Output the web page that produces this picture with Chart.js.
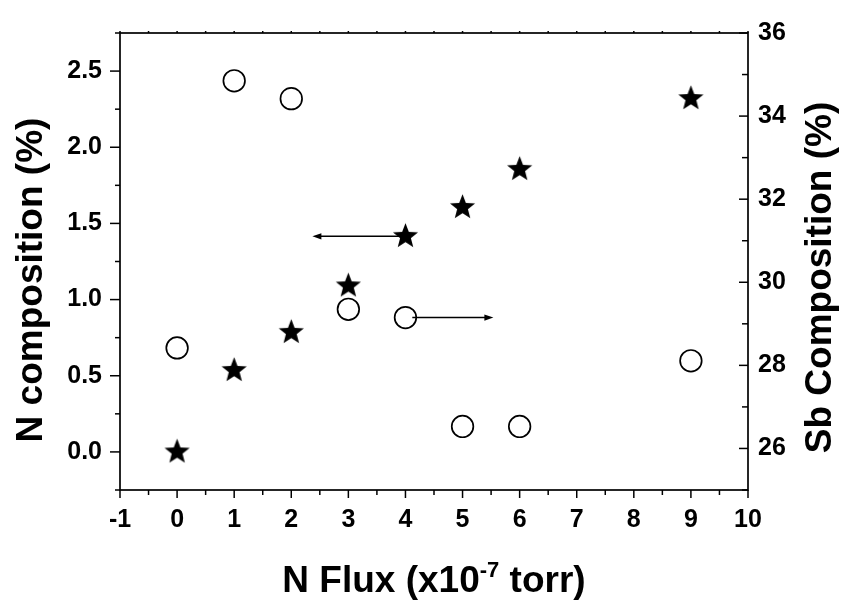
<!DOCTYPE html>
<html>
<head>
<meta charset="utf-8">
<title>N and Sb composition vs N flux</title>
<script src="https://cdn.jsdelivr.net/npm/chart.js@4.4.1/dist/chart.umd.min.js"></script>
<style>
  html, body { margin: 0; padding: 0; background: #fff; }
  #wrap { width: 843px; height: 603px; }
</style>
</head>
<body>
<div id="wrap"><canvas id="c" width="843" height="603"></canvas></div>
<script>
// N flux (x10^-7 torr) for each sample
const FLUX = [0, 1, 2, 3, 4, 5, 6, 9];
// N composition (%), left axis
const N_COMP = [0.00, 0.535, 0.785, 1.09, 1.415, 1.605, 1.855, 2.32];
// Sb composition (%), right axis
const SB_COMP = [28.42, 34.85, 34.42, 29.35, 29.15, 26.53, 26.53, 28.11];

// tick labels
const X_TICKS = [-1, 0, 1, 2, 3, 4, 5, 6, 7, 8, 9, 10];
const N_TICKS = [0, 0.5, 1.0, 1.5, 2.0, 2.5];
const SB_TICKS = [26, 28, 30, 32, 34, 36];

// arrows tying each series to its axis (data coordinates)
const N_ARROW = { from: 4, to: 2.37, at: 1.415 };
const SB_ARROW = { from: 4.12, to: 5.54, at: 29.15 };

const FONT = "'Liberation Sans', Arial, Helvetica, sans-serif";
const TICK_FONT = "'Liberation Sans Narrow', 'Arial Narrow', 'Liberation Sans', Arial, sans-serif";

// filled five-pointed star used as the point symbol
function makeStar(R, ratio) {
  const size = Math.ceil(R * 2 + 4);
  const c = document.createElement('canvas');
  c.width = size; c.height = size;
  const g = c.getContext('2d');
  const cx = size / 2, cy = size / 2;
  g.beginPath();
  for (let i = 0; i < 10; i++) {
    const r = (i % 2) ? R * ratio : R;
    const a = -Math.PI / 2 + i * Math.PI / 5;
    g.lineTo(cx + r * Math.cos(a), cy + r * Math.sin(a));
  }
  g.closePath();
  g.fillStyle = '#000';
  g.fill();
  return c;
}
const STAR = makeStar(13.2, 0.43);

function line(ctx, x0, y0, x1, y1) {
  ctx.beginPath(); ctx.moveTo(x0, y0); ctx.lineTo(x1, y1); ctx.stroke();
}

function arrow(ctx, x0, x1, y) {
  const dir = Math.sign(x1 - x0);
  ctx.lineWidth = 1.5;
  line(ctx, x0, y, x1 - dir * 6, y);
  ctx.beginPath();
  ctx.moveTo(x1, y);
  ctx.lineTo(x1 - dir * 9, y - 3.2);
  ctx.lineTo(x1 - dir * 9, y + 3.2);
  ctx.closePath();
  ctx.fill();
}

const framePlugin = {
  id: 'frame',
  beforeDatasetsDraw(chart) {
    const ctx = chart.ctx;
    const xs = chart.scales.x, yl = chart.scales.y, yr = chart.scales.y2;
    ctx.save();
    ctx.strokeStyle = '#000';
    ctx.fillStyle = '#000';
    arrow(ctx, xs.getPixelForValue(N_ARROW.from), xs.getPixelForValue(N_ARROW.to), yl.getPixelForValue(N_ARROW.at));
    arrow(ctx, xs.getPixelForValue(SB_ARROW.from), xs.getPixelForValue(SB_ARROW.to), yr.getPixelForValue(SB_ARROW.at));
    ctx.restore();
  },
  afterDraw(chart) {
    const ctx = chart.ctx;
    const a = chart.chartArea;
    const xs = chart.scales.x, yl = chart.scales.y, yr = chart.scales.y2;
    ctx.save();
    ctx.strokeStyle = '#000';
    ctx.fillStyle = '#000';
    ctx.lineWidth = 1.7;
    ctx.strokeRect(a.left, a.top, a.right - a.left, a.bottom - a.top);

    ctx.lineWidth = 1.5;
    // bottom and top ticks
    for (let v = xs.min; v <= xs.max + 1e-9; v += 0.5) {
      const px = xs.getPixelForValue(v);
      const major = Math.abs(v - Math.round(v)) < 1e-9;
      line(ctx, px, a.bottom, px, a.bottom + (major ? 8 : 5));
      line(ctx, px, a.top, px, a.top - 2);
    }
    // left ticks (outward)
    for (let v = yl.min; v <= yl.max + 1e-9; v += 0.25) {
      const py = yl.getPixelForValue(v);
      const major = Math.abs(v / 0.5 - Math.round(v / 0.5)) < 1e-9;
      line(ctx, a.left, py, a.left - (major ? 10 : 5), py);
    }
    // right ticks (inward)
    for (let v = yr.min; v <= yr.max + 1e-9; v += 1) {
      const py = yr.getPixelForValue(v);
      const major = Math.round(v) % 2 === 0;
      line(ctx, a.right, py, a.right - (major ? 9 : 6), py);
    }

    // axis titles
    const cx = (a.left + a.right) / 2;
    ctx.font = 'bold 37px ' + FONT;
    ctx.textBaseline = 'alphabetic';

    ctx.save();
    ctx.translate(42, 280);
    ctx.rotate(-Math.PI / 2);
    ctx.textAlign = 'center';
    ctx.fillText('N composition (%)', 0, 0);
    ctx.restore();

    ctx.save();
    ctx.translate(831, 277.5);
    ctx.rotate(-Math.PI / 2);
    ctx.textAlign = 'center';
    ctx.fillText('Sb Composition (%)', 0, 0);
    ctx.restore();

    const p1 = 'N Flux (x10', sup = '-7', p2 = ' torr)';
    ctx.textAlign = 'left';
    ctx.font = 'bold 37px ' + FONT;
    const w1 = ctx.measureText(p1).width, w3 = ctx.measureText(p2).width;
    ctx.font = 'bold 22px ' + FONT;
    const w2 = ctx.measureText(sup).width;
    let x = cx - (w1 + w2 + w3) / 2;
    const base = 592;
    ctx.font = 'bold 37px ' + FONT;
    ctx.fillText(p1, x, base); x += w1;
    ctx.font = 'bold 22px ' + FONT;
    ctx.fillText(sup, x, base - 15); x += w2;
    ctx.font = 'bold 37px ' + FONT;
    ctx.fillText(p2, x, base);
    ctx.restore();
  }
};

const tickFont = { family: TICK_FONT, size: 25, weight: 'bold' };
const noGrid = { display: false, drawTicks: false };

new Chart(document.getElementById('c'), {
  type: 'scatter',
  data: {
    datasets: [
      {
        label: 'N composition',
        data: FLUX.map((x, i) => ({ x: x, y: N_COMP[i] })),
        yAxisID: 'y',
        pointStyle: STAR,
        pointRadius: 13,
        showLine: false
      },
      {
        label: 'Sb composition',
        data: FLUX.map((x, i) => ({ x: x, y: SB_COMP[i] })),
        yAxisID: 'y2',
        pointStyle: 'circle',
        pointRadius: 10.8,
        borderWidth: 1.7,
        borderColor: '#000',
        backgroundColor: 'rgba(0,0,0,0)',
        showLine: false
      }
    ]
  },
  options: {
    responsive: false,
    animation: false,
    layout: { padding: { top: 26, left: 0, right: 0, bottom: 0 } },
    plugins: { legend: { display: false }, tooltip: { enabled: false } },
    scales: {
      x: {
        type: 'linear', position: 'bottom', min: -1, max: 10,
        grid: noGrid, border: { display: false },
        afterBuildTicks: s => { s.ticks = X_TICKS.map(v => ({ value: v })); },
        afterFit: s => { s.height = 113; },
        ticks: { font: tickFont, color: '#000', padding: 15, maxRotation: 0, autoSkip: false,
                 callback: v => String(v) }
      },
      y: {
        type: 'linear', position: 'left', min: -0.25, max: 2.75,
        grid: noGrid, border: { display: false },
        afterBuildTicks: s => { s.ticks = N_TICKS.map(v => ({ value: v })); },
        afterFit: s => { s.width = 120; },
        ticks: { font: tickFont, color: '#000', padding: 18, callback: v => Number(v).toFixed(1) }
      },
      y2: {
        type: 'linear', position: 'right', min: 25, max: 36,
        grid: noGrid, border: { display: false },
        afterBuildTicks: s => { s.ticks = SB_TICKS.map(v => ({ value: v })); },
        afterFit: s => { s.width = 95; },
        ticks: { font: tickFont, color: '#000', padding: 10, callback: v => String(v) }
      }
    }
  },
  plugins: [framePlugin]
});
</script>
</body>
</html>
